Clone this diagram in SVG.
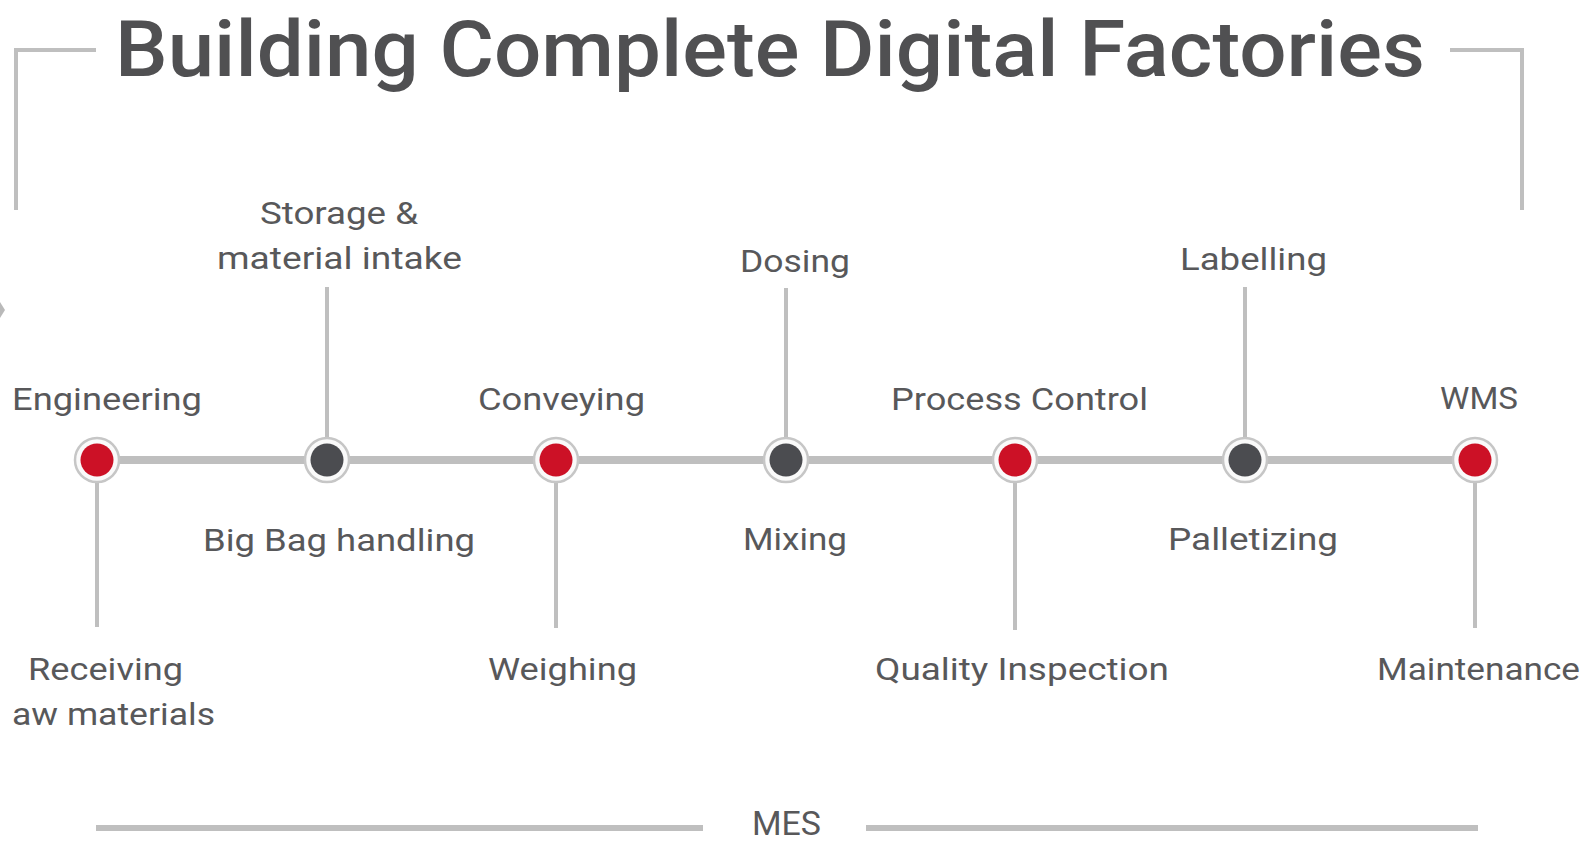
<svg xmlns="http://www.w3.org/2000/svg" width="1585" height="845" viewBox="0 0 1585 845">
<style>
.ln{stroke:#bfbfbf;fill:none}
.lbl{font-family:Roboto,"Liberation Sans",sans-serif;font-size:31px;fill:#58585a}
.ttl{font-family:Roboto,"Liberation Sans",sans-serif;font-size:78px;font-weight:500;fill:#505052}
.ring{fill:#fafafa;stroke:#c6c6c6;stroke-width:2.5}
.red{fill:#cc1126}
.dark{fill:#4b4c50}
</style>
<rect width="1585" height="845" fill="#ffffff"/>
<g id="title">
<path class="ln" stroke-width="4" d="M96,50 H16 V210"/>
<path class="ln" stroke-width="4" d="M1450,50 H1522 V210"/>
<text class="ttl" x="115" y="76" textLength="1310" lengthAdjust="spacingAndGlyphs">Building Complete Digital Factories</text>
</g>
<path d="M0,302 L5,310 L0,318 Z" fill="#8a8a8a" opacity="0.6"/>
<g id="connectors">
<line class="ln" stroke-width="8" x1="97" y1="460" x2="1475" y2="460"/>
<line class="ln" stroke-width="4" x1="97" y1="460" x2="97" y2="627"/>
<line class="ln" stroke-width="4" x1="327" y1="287" x2="327" y2="460"/>
<line class="ln" stroke-width="4" x1="556" y1="460" x2="556" y2="628"/>
<line class="ln" stroke-width="4" x1="786" y1="288" x2="786" y2="460"/>
<line class="ln" stroke-width="4" x1="1015" y1="460" x2="1015" y2="630"/>
<line class="ln" stroke-width="4" x1="1245" y1="287" x2="1245" y2="460"/>
<line class="ln" stroke-width="4" x1="1475" y1="460" x2="1475" y2="628"/>
</g>
<g id="n-engineering">
<circle class="ring" cx="97" cy="460" r="22"/><circle class="red" cx="97" cy="460" r="16.5"/>
<text class="lbl" x="12" y="410" textLength="190" lengthAdjust="spacingAndGlyphs">Engineering</text>
<text class="lbl" x="28" y="680" textLength="155" lengthAdjust="spacingAndGlyphs">Receiving</text>
<text class="lbl" x="12" y="725" textLength="203" lengthAdjust="spacingAndGlyphs">aw materials</text>
</g>
<g id="n-bigbag">
<circle class="ring" cx="327" cy="460" r="22"/><circle class="dark" cx="327" cy="460" r="16.5"/>
<text class="lbl" x="260" y="224" textLength="158" lengthAdjust="spacingAndGlyphs">Storage &amp;</text>
<text class="lbl" x="217" y="269" textLength="245" lengthAdjust="spacingAndGlyphs">material intake</text>
<text class="lbl" x="203" y="551" textLength="272" lengthAdjust="spacingAndGlyphs">Big Bag handling</text>
</g>
<g id="n-conveying">
<circle class="ring" cx="556" cy="460" r="22"/><circle class="red" cx="556" cy="460" r="16.5"/>
<text class="lbl" x="478" y="410" textLength="167" lengthAdjust="spacingAndGlyphs">Conveying</text>
<text class="lbl" x="488" y="680" textLength="149" lengthAdjust="spacingAndGlyphs">Weighing</text>
</g>
<g id="n-mixing">
<circle class="ring" cx="786" cy="460" r="22"/><circle class="dark" cx="786" cy="460" r="16.5"/>
<text class="lbl" x="740" y="272" textLength="110" lengthAdjust="spacingAndGlyphs">Dosing</text>
<text class="lbl" x="743" y="550" textLength="104" lengthAdjust="spacingAndGlyphs">Mixing</text>
</g>
<g id="n-process">
<circle class="ring" cx="1015" cy="460" r="22"/><circle class="red" cx="1015" cy="460" r="16.5"/>
<text class="lbl" x="891" y="410" textLength="257" lengthAdjust="spacingAndGlyphs">Process Control</text>
<text class="lbl" x="875" y="680" textLength="294" lengthAdjust="spacingAndGlyphs">Quality Inspection</text>
</g>
<g id="n-palletizing">
<circle class="ring" cx="1245" cy="460" r="22"/><circle class="dark" cx="1245" cy="460" r="16.5"/>
<text class="lbl" x="1180" y="270" textLength="147" lengthAdjust="spacingAndGlyphs">Labelling</text>
<text class="lbl" x="1168" y="550" textLength="170" lengthAdjust="spacingAndGlyphs">Palletizing</text>
</g>
<g id="n-wms">
<circle class="ring" cx="1475" cy="460" r="22"/><circle class="red" cx="1475" cy="460" r="16.5"/>
<text class="lbl" x="1440" y="409" textLength="78" lengthAdjust="spacingAndGlyphs">WMS</text>
<text class="lbl" x="1377" y="680" textLength="203" lengthAdjust="spacingAndGlyphs">Maintenance</text>
</g>
<g id="mes">
<line class="ln" stroke-width="6" x1="96" y1="828" x2="703" y2="828"/>
<line class="ln" stroke-width="6" x1="866" y1="828" x2="1478" y2="828"/>
<text class="lbl" x="752" y="835" textLength="69" lengthAdjust="spacingAndGlyphs" style="font-size:33px">MES</text>
</g>
</svg>
